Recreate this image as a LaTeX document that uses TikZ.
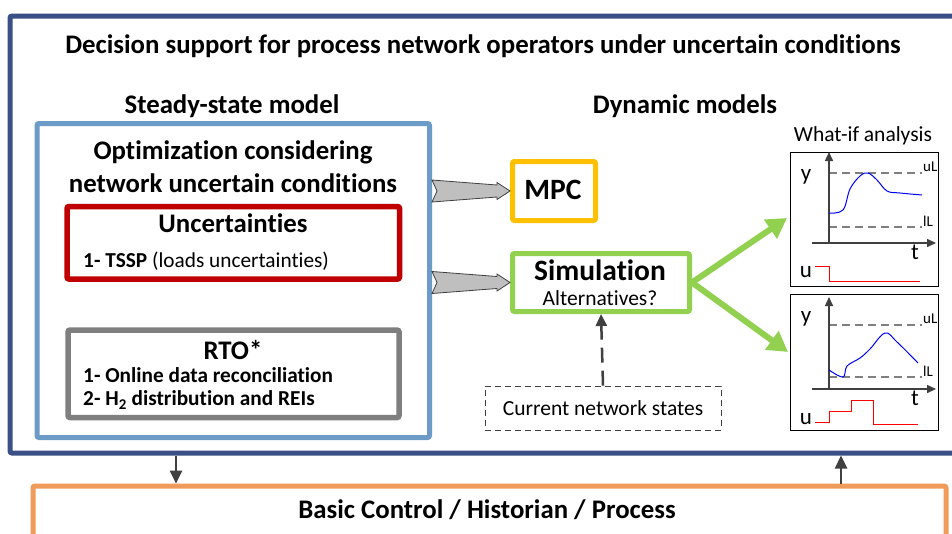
\documentclass[tikz,border=0pt]{standalone}
\usepackage{fontspec}
\setmainfont{Carlito}[Ligatures=NoCommon]
\usetikzlibrary{arrows.meta,calc}
\definecolor{navyc}{RGB}{59,79,135}
\definecolor{lblue}{RGB}{108,155,200}
\definecolor{redc}{RGB}{192,0,0}
\definecolor{grayc}{RGB}{127,127,127}
\definecolor{mpcc}{RGB}{255,192,0}
\definecolor{greenc}{RGB}{146,208,80}
\definecolor{orangec}{RGB}{240,155,90}
\definecolor{darkc}{RGB}{64,64,64}
\definecolor{blockc}{RGB}{191,191,191}
\begin{document}
\begin{tikzpicture}[x=1pt,y=-1pt,
  frame/.style={draw, rounded corners=2pt, line width=5pt, inner sep=0pt},
  big/.style={font=\fontsize{26.8}{31}\selectfont\bfseries},
  huge/.style={font=\fontsize{29.5}{34}\selectfont\bfseries},
  mid/.style={font=\fontsize{21.3}{25}\selectfont\bfseries},
  reg/.style={font=\fontsize{21.3}{25}\selectfont},
  small/.style={font=\fontsize{21.5}{25}\selectfont},
  axl/.style={font=\fontsize{23}{26}\selectfont, inner sep=0pt},
  tiny/.style={font=\fontsize{15}{17}\selectfont, inner sep=0pt},
  blockarrow/.style={draw=darkc, fill=blockc, line width=0.8pt, line join=miter},
  greenarrow/.style={draw=greenc, line width=6pt, -{Triangle[length=20pt,width=22pt]}},
  darkarrow/.style={draw=darkc, line width=2.5pt, -{Triangle[length=13pt,width=12pt]}},
  axis/.style={draw=darkc, line width=1.5pt, -{Triangle[length=9pt,width=8pt]}},
  limit/.style={draw=gray, line width=1.5pt, dash pattern=on 8pt off 5pt},
  plotbox/.style={draw=black, line width=1pt, inner sep=0pt}
]
\clip (0,0) rectangle (952,533);
\fill[white] (0,0) rectangle (952,533);

% outer frame
\draw[navyc, line width=5pt, rounded corners=2pt] (10,16) rectangle (970,453);
\node[big] (title) at (483,46) {Decision support for process network operators under uncertain conditions};
\node[big] (steadyl) at (232,106) {Steady-state model};
\node[big] (dynl) at (685,106) {Dynamic models};

% steady-state box
\node[frame, draw=lblue, minimum width=392.5pt, minimum height=314pt] (steady) at (233.25,280.5) {};
\node[big] (opt1) at (233,152) {Optimization considering};
\node[big] (opt2) at (233,183) {network uncertain conditions};

\node[frame, draw=redc, line width=5.5pt, minimum width=332.5pt, minimum height=72.5pt] (unc) at (233.25,242.75) {};
\node[big] (unct) at (233,223) {Uncertainties};
\node[reg, anchor=west, inner sep=0pt] (tssp) at (83,261) {\textbf{1- TSSP} (loads uncertainties)};

\node[frame, draw=grayc, line width=5.5pt, minimum width=331pt, minimum height=87.5pt] (rto) at (233.5,373.75) {};
\node[big] (rtot) at (233,350) {RTO*};
\node[mid, anchor=west, inner sep=0pt] (rto1) at (83,375) {1- Online data reconciliation};
\node[mid, anchor=west, inner sep=0pt] (rto2) at (83,400) {2- H$_\mathbf{2}$ distribution and REIs};

% MPC and Simulation
\node[frame, draw=mpcc, minimum width=83pt, minimum height=59pt] (mpc) at (554,191) {};
\node[huge] (mpct) at (553,190) {MPC};
\node[frame, draw=greenc, minimum width=177pt, minimum height=58pt] (sim) at (601,282.5) {};
\node[huge] (simt) at (600,270) {Simulation};
\node[small] (alt) at (600,298) {Alternatives?};

% block arrows
\coordinate (s1) at (steady.east |- mpc.west);
\coordinate (s2) at (steady.east |- sim.west);
\foreach \s/\t in {s1/mpc, s2/sim}{
  \draw[blockarrow] ($(\s)+(0,-11)$) -- ($(\t.west)+(-13,-6)$) -- ($(\t.west)+(-13,-8.5)$) -- (\t.west)
     -- ($(\t.west)+(-13,8.5)$) -- ($(\t.west)+(-13,6)$) -- ($(\s)+(0,11)$) -- ($(\s)+(5,0)$) -- cycle;
}

% current network states
\node[draw=darkc, dash pattern=on 6pt off 4pt, line width=0.8pt, minimum width=236pt, minimum height=44pt, small] (cns) at (603,408) {Current network states};
\draw[draw=darkc, line width=2.5pt, dash pattern=on 15pt off 8pt, -{Triangle[length=12pt,width=11pt]}] (cns.north) -- (sim.south);

% plots
\node[small, inner sep=0pt] (whatif) at (863,136) {What-if analysis};
\node[plotbox, minimum width=148pt, minimum height=134pt] (p1) at (864,219) {};
\node[plotbox, minimum width=148pt, minimum height=136pt] (p2) at (864,362) {};

\coordinate (p1in) at (787,218);
\coordinate (p2in) at (788,352);
\draw[greenarrow] (sim.east) -- (p1in);
\draw[greenarrow] (sim.east) -- (p2in);

% plot 1
\draw[limit] (829,173) -- (922,173);
\draw[limit] (829,227) -- (922,227);
\draw[axis] (829,243) -- (829,152);
\draw[axis] (812,243) -- (936,243);
\node[axl] (y1) at (806,177) {y};
\node[axl] (t1) at (915,252) {t};
\node[tiny, anchor=west] (u1l) at (923,167) {uL};
\node[tiny, anchor=west] (l1l) at (923,221) {lL};
\draw[blue, line width=1pt] plot[smooth, tension=0.6] coordinates {(829,213) (843,210) (850,189) (860,176) (868,173) (877,180) (887,191) (900,193) (922,195)};
\node[axl] (uu1) at (806,272) {u};
\draw[red, line width=1pt] (815,266) -- (829,266) -- (829,281) -- (920,281);

% plot 2
\draw[limit] (829,325) -- (922,325);
\draw[limit] (829,377) -- (922,377);
\draw[axis] (829,389) -- (829,297);
\draw[axis] (812,389) -- (936,389);
\node[axl] (y2) at (806,319) {y};
\node[axl] (t2) at (915,398) {t};
\node[tiny, anchor=west] (u2l) at (923,319) {uL};
\node[tiny, anchor=west] (l2l) at (923,371) {lL};
\draw[blue, line width=1pt] plot[smooth, tension=0.6] coordinates {(829,370) (843,377) (847,366) (860,358) (870,349) (885,333) (897,342) (918,363)};
\node[axl] (uu2) at (806,419) {u};
\draw[red, line width=1pt] (815,422) -- (829,422) -- (829,411) -- (851,411) -- (851,400) -- (873,400) -- (873,424) -- (918,424);

% bottom
\draw[orangec, line width=5pt, rounded corners=2pt] (33,486) rectangle (946,560);
\node[big] (basic) at (487,510) {Basic Control / Historian / Process};
\coordinate (outbot1) at (176,455.5);
\coordinate (orgtop1) at (176,483.5);
\coordinate (outbot2) at (841,455.5);
\coordinate (orgtop2) at (841,483.5);
\draw[darkarrow] (outbot1) -- (orgtop1);
\draw[darkarrow] (orgtop2) -- (outbot2);
\end{tikzpicture}
\end{document}
